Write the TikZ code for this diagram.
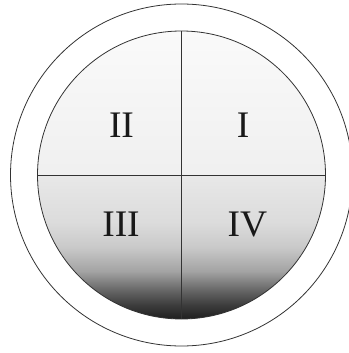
\documentclass[tikz,border=0pt]{standalone}
\usepackage{fontspec}
\setmainfont{Liberation Serif}

% 上が白、下が黒のグラデーション
\pgfdeclareverticalshading{quadshade}{100bp}{
  color(0bp)=(black!88);
  color(25bp)=(black!88);
  color(27.5bp)=(black!76);
  color(30bp)=(black!60);
  color(33.3bp)=(black!36);
  color(37.5bp)=(black!21);
  color(41.7bp)=(black!14);
  color(49.9bp)=(black!9);
  color(50.1bp)=(black!6);
  color(75bp)=(black!2);
  color(100bp)=(black!2)
}

\begin{document}
\begin{tikzpicture}[
  x=1pt,y=1pt,
  rim/.style={draw=black!80,line width=0.8pt},
  divider/.style={draw=black!80,line width=0.7pt},
  numeral/.style={font=\fontsize{37.5}{40}\selectfont,text=black!90,inner sep=0pt}
]
\useasboundingbox (-181.5,-178) rectangle (166.5,175);

%--------------------
% 外側の円
%--------------------
\draw[rim] (0,0) circle (171);

%--------------------
% 内側の円
%--------------------
\shade[shading=quadshade] (0,0) circle (144);
\draw[rim] (0,0) circle (144);

\coordinate (N) at (90:144);
\coordinate (S) at (-90:144);
\coordinate (W) at (180:144);
\coordinate (E) at (0:144);

% 十字の区切り線
\draw[divider] (N) -- (S);
\draw[divider] (W) -- (E);

% 象限の番号
\node[numeral] (q1) at (61.5,50) {I};
\node[numeral] (q2) at (-60,50) {II};
\node[numeral] (q3) at (-60.5,-49.5) {III};
\node[numeral] (q4) at (66,-49.5) {IV};

\end{tikzpicture}
\end{document}
